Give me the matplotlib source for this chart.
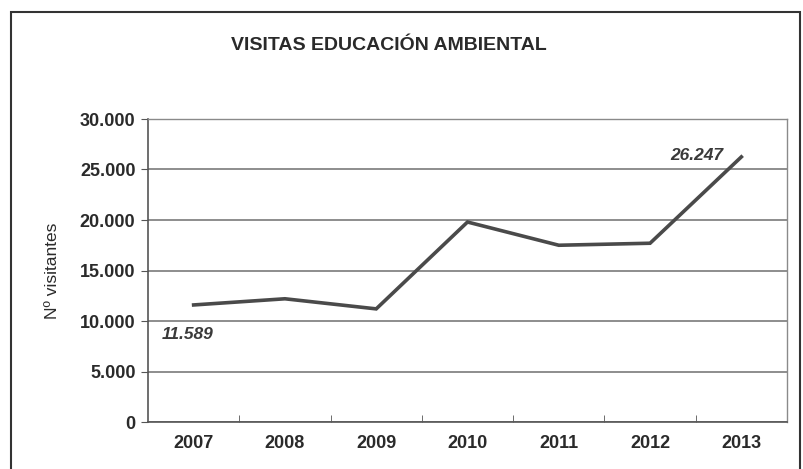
import matplotlib
matplotlib.use("Agg")
import matplotlib.pyplot as plt
from matplotlib.ticker import FuncFormatter
from matplotlib.patches import Rectangle

years = ["2007", "2008", "2009", "2010", "2011", "2012", "2013"]
visitors = [11589, 12200, 11200, 19800, 17500, 17700, 26247]
yticks = [0, 5000, 10000, 15000, 20000, 25000, 30000]

plt.rcParams['font.family'] = ['Liberation Sans', 'DejaVu Sans']

fig = plt.figure(figsize=(8.04, 4.69), dpi=100)
ax = fig.add_axes([148 / 804, 1 - 422 / 469, (787 - 148) / 804, (422 - 119) / 469])

x = list(range(len(years)))
ax.plot(x, visitors, color="#4a4a4a", lw=2.6, solid_joinstyle="miter")

ax.set_xlim(-0.5, len(years) - 0.5)
ax.set_ylim(0, 30000)
ax.set_yticks(yticks)
ax.yaxis.set_major_formatter(FuncFormatter(lambda v, p: f"{int(v):,}".replace(",", ".")))
ax.set_xticks(x)
ax.set_xticklabels(years)
ax.set_xticks([i + 0.5 for i in x[:-1]], minor=True)
ax.tick_params(axis="x", which="major", length=0, pad=9, labelsize=13, labelcolor="#2a2a2a")
ax.tick_params(axis="x", which="minor", length=5, direction="in", color="#555555")
ax.tick_params(axis="y", length=5, color="#555555", pad=4, labelsize=13, labelcolor="#2a2a2a")
for lab in ax.get_xticklabels() + ax.get_yticklabels():
    lab.set_fontweight("bold")

ax.grid(axis="y", color="#7a7a7a", lw=1.2)
ax.set_axisbelow(True)
for side in ["left", "bottom"]:
    ax.spines[side].set_color("#555555")
    ax.spines[side].set_linewidth(1.2)
for side in ["top", "right"]:
    ax.spines[side].set_color("#8a8a8a")
    ax.spines[side].set_linewidth(1.0)

ax.set_ylabel("Nº visitantes", fontsize=12.5, color="#2a2a2a", labelpad=14)

ax.annotate("11.589", (x[0], visitors[0]), xytext=(-23, -21), textcoords="offset points",
            ha="left", va="center",
            fontsize=12.5, style="italic", fontweight="bold", color="#3a3a3a")
ax.annotate("26.247", (x[-1], visitors[-1]), xytext=(-13, 1), textcoords="offset points",
            ha="right", va="center",
            fontsize=12.5, style="italic", fontweight="bold", color="#3a3a3a")

fig.text(389 / 804, 1 - 46 / 469, "VISITAS EDUCACIÓN AMBIENTAL", ha="center", va="center",
         fontsize=14, fontweight="bold", color="#2a2a2a")

# outer frame of the chart
fig.patches.append(Rectangle((11 / 804, -0.05), 789 / 804, 1 - 12 / 469 + 0.05,
                             transform=fig.transFigure, fill=False, ec="#333333", lw=1.5))

fig.savefig("out.png", dpi=100)
